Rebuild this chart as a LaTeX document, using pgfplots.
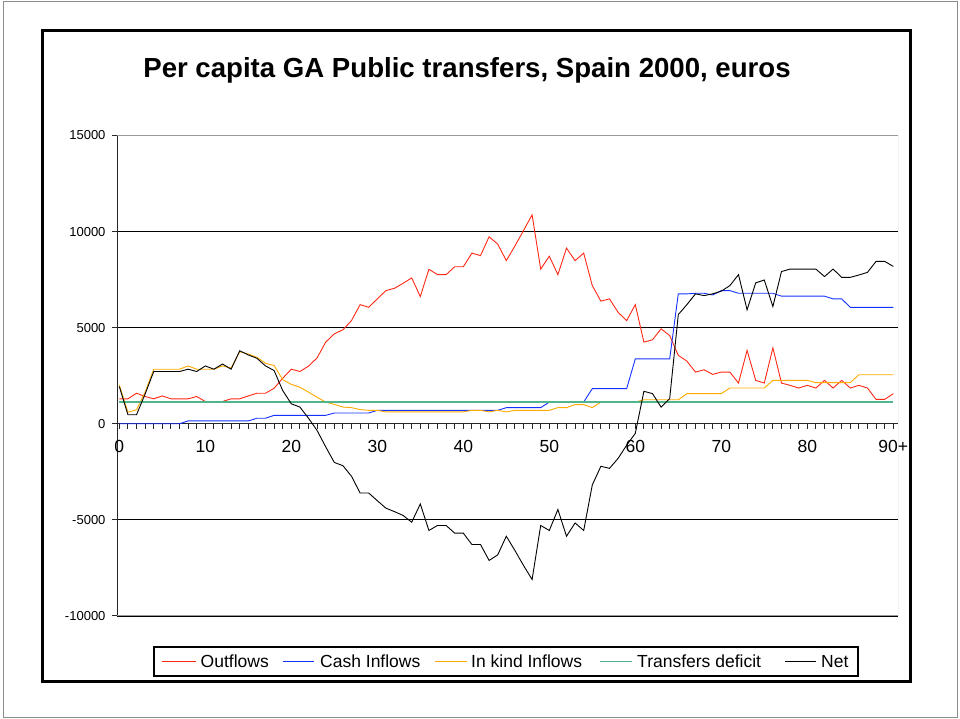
\documentclass[border=0pt]{standalone}
\usepackage{fontspec}
\setmainfont{Liberation Sans}
\usepackage{pgfplots}
\usepackage{pgfplotstable}
\pgfplotsset{compat=1.18}

\definecolor{outc}{RGB}{255,40,20}
\definecolor{cashc}{RGB}{20,50,255}
\definecolor{kindc}{RGB}{255,170,0}
\definecolor{defc}{RGB}{80,180,140}

% age, outflows, cash inflows, in kind inflows, transfers deficit, net
\pgfplotstableread{
age out cash kind def net
0 1300 0 2020 1140 1940
1 1300 0 600 1140 470
2 1590 0 730 1140 470
3 1420 0 1650 1140 1550
4 1300 0 2840 1140 2720
5 1450 0 2840 1140 2720
6 1300 0 2840 1140 2720
7 1300 0 2840 1140 2720
8 1300 150 3010 1140 2840
9 1420 150 2840 1140 2720
10 1160 150 2840 1140 3010
11 1160 150 2840 1140 2840
12 1160 150 3010 1140 3110
13 1300 150 2900 1140 2840
14 1300 150 3750 1140 3800
15 1450 150 3630 1140 3580
16 1590 290 3460 1140 3410
17 1590 290 3150 1140 3010
18 1850 440 3030 1140 2770
19 2370 440 2300 1140 1730
20 2840 440 2050 1140 1040
21 2720 440 1900 1140 870
22 3000 440 1650 1140 290
23 3430 440 1380 1140 -350
24 4250 440 1130 1140 -1200
25 4680 560 1010 1140 -2010
26 4890 560 870 1140 -2180
27 5370 560 840 1140 -2730
28 6200 560 740 1140 -3600
29 6060 560 700 1140 -3600
30 6500 700 700 1140 -4000
31 6930 700 620 1140 -4390
32 7050 700 620 1140 -4570
33 7310 700 620 1140 -4770
34 7590 700 620 1140 -5120
35 6620 700 620 1140 -4170
36 8040 700 620 1140 -5550
37 7760 700 620 1140 -5290
38 7760 700 620 1140 -5290
39 8170 700 620 1140 -5690
40 8170 700 620 1140 -5690
41 8880 700 700 1140 -6280
42 8750 700 700 1140 -6280
43 9730 700 620 1140 -7110
44 9350 700 700 1140 -6820
45 8490 840 620 1140 -5850
46 9250 840 700 1140 -6590
47 10050 840 700 1140 -7370
48 10870 840 700 1140 -8100
49 8050 840 700 1140 -5290
50 8720 1130 700 1140 -5550
51 7760 1130 840 1140 -4460
52 9140 1130 840 1140 -5850
53 8490 1130 1000 1140 -5160
54 8880 1130 1000 1140 -5550
55 7190 1830 840 1140 -3180
56 6380 1830 1130 1140 -2210
57 6500 1830 1130 1140 -2320
58 5800 1830 1130 1140 -1800
59 5370 1830 1130 1140 -1110
60 6200 3380 1130 1140 -500
61 4250 3380 1250 1140 1690
62 4370 3380 1250 1140 1570
63 4940 3380 1250 1140 870
64 4590 3380 1250 1140 1310
65 3560 6760 1250 1140 5680
66 3260 6760 1570 1140 6200
67 2690 6790 1570 1140 6760
68 2810 6790 1570 1140 6670
69 2570 6700 1570 1140 6760
70 2690 6930 1570 1140 6900
71 2690 6930 1860 1140 7190
72 2120 6790 1860 1140 7760
73 3820 6790 1860 1140 5930
74 2260 6790 1860 1140 7330
75 2120 6790 1860 1140 7480
76 3950 6790 2260 1140 6100
77 2120 6640 2260 1140 7920
78 2000 6640 2260 1140 8050
79 1860 6640 2260 1140 8050
80 2000 6640 2260 1140 8050
81 1860 6640 2140 1140 8050
82 2260 6640 2140 1140 7660
83 1860 6500 2140 1140 8050
84 2260 6500 2140 1140 7620
85 1860 6060 2140 1140 7620
86 2000 6060 2550 1140 7740
87 1860 6060 2550 1140 7880
88 1270 6060 2550 1140 8450
89 1270 6060 2550 1140 8450
90 1570 6060 2550 1140 8190
}\data

\begin{document}
\begin{tikzpicture}[x=1pt,y=1pt]
\path[use as bounding box] (0,0) rectangle (960,719);
\draw[black!45, line width=1pt] (3.3,1.3) rectangle (957,717.5);
\draw[line width=3pt] (42,37) rectangle (910,688);
\node[anchor=base, font=\bfseries\fontsize{27.6}{30}\selectfont] at (467,641)
  {Per capita GA Public transfers, Spain 2000, euros};

\begin{axis}[
  at={(117pt,103pt)}, anchor=south west, scale only axis,
  width=781pt, height=480.5pt,
  xmin=-0.27, xmax=90.55, ymin=-10000, ymax=15000,
  axis x line=middle, axis y line=left,
  axis line style={-, line width=1pt, black!85},
  xtick={0,10,...,90},
  xticklabels={0,10,20,30,40,50,60,70,80,90+},
  minor xtick={0,1,...,90},
  ytick={-10000,-5000,0,5000,10000,15000},
  yticklabels={-10000,-5000,0,5000,10000,15000},
  scaled y ticks=false,
  tick align=outside,
  major tick length=5pt, minor tick length=5pt,
  tick style={black!85, line width=1pt},
  xticklabel style={font=\fontsize{17.5}{18}\selectfont, yshift=-8pt},
  yticklabel style={font=\fontsize{13}{14}\selectfont, xshift=-3pt},
  ymajorgrids, grid style={black, line width=0.8pt},
]
\addplot[color=outc, line width=0.9pt] table[x=age, y=out] {\data};
\addplot[color=cashc, line width=0.9pt] table[x=age, y=cash] {\data};
\addplot[color=kindc, line width=0.9pt] table[x=age, y=kind] {\data};
\addplot[color=defc, line width=1.3pt] table[x=age, y=def] {\data};
\addplot[color=black, line width=0.9pt] table[x=age, y=net] {\data};
\draw[black!40, line width=1pt] (rel axis cs:0,1) -- (rel axis cs:1,1)
  -- (rel axis cs:1,0) -- (rel axis cs:0,0);
\end{axis}

% legend box
\draw[line width=2pt, fill=white] (154,43) rectangle (858,72);
\begin{scope}[every node/.style={anchor=base west, inner sep=0pt,
    font=\fontsize{17.5}{18}\selectfont}]
\draw[color=outc, line width=1pt] (161.5,57.5) -- (196,57.5);
\node at (200.5,51.3) {Outflows};
\draw[color=cashc, line width=1pt] (283,57.5) -- (314,57.5);
\node at (320,51.3) {Cash Inflows};
\draw[color=kindc, line width=1pt] (435,57.5) -- (467,57.5);
\node at (471,51.3) {In kind Inflows};
\draw[color=defc, line width=1.2pt] (600,57.5) -- (632,57.5);
\node at (637,51.3) {Transfers deficit};
\draw[color=black, line width=1pt] (785,57.5) -- (816,57.5);
\node at (821,51.3) {Net};
\end{scope}
\end{tikzpicture}
\end{document}
